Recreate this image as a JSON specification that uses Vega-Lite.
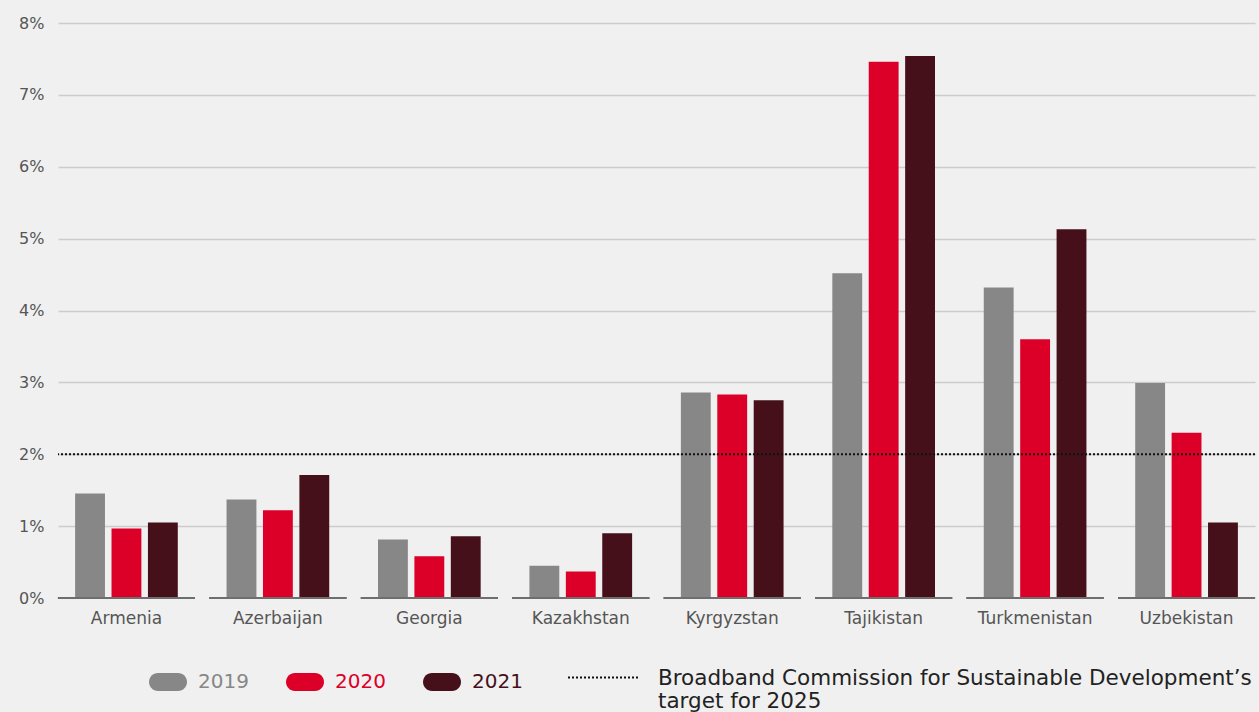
{
  "$schema": "https://vega.github.io/schema/vega-lite/v6.json",
  "width": 1197,
  "height": 575,
  "autosize": {"type": "none"},
  "padding": {"left": 58, "top": 23, "right": 4, "bottom": 114},
  "background": "#f0f0f0",
  "config": {
    "view": {"stroke": null},
    "font": "DejaVu Sans",
    "axis": {"labelFont": "DejaVu Sans", "labelColor": "#555555"},
    "legend": {"labelFont": "DejaVu Sans"}
  },
  "datasets": {
    "bars": [
      {"country": "Armenia", "year": "2019", "value": 1.455},
      {"country": "Armenia", "year": "2020", "value": 0.968},
      {"country": "Armenia", "year": "2021", "value": 1.05},
      {"country": "Azerbaijan", "year": "2019", "value": 1.37},
      {"country": "Azerbaijan", "year": "2020", "value": 1.22},
      {"country": "Azerbaijan", "year": "2021", "value": 1.71},
      {"country": "Georgia", "year": "2019", "value": 0.815},
      {"country": "Georgia", "year": "2020", "value": 0.58},
      {"country": "Georgia", "year": "2021", "value": 0.86},
      {"country": "Kazakhstan", "year": "2019", "value": 0.45},
      {"country": "Kazakhstan", "year": "2020", "value": 0.37},
      {"country": "Kazakhstan", "year": "2021", "value": 0.9},
      {"country": "Kyrgyzstan", "year": "2019", "value": 2.86},
      {"country": "Kyrgyzstan", "year": "2020", "value": 2.83},
      {"country": "Kyrgyzstan", "year": "2021", "value": 2.75},
      {"country": "Tajikistan", "year": "2019", "value": 4.52},
      {"country": "Tajikistan", "year": "2020", "value": 7.46},
      {"country": "Tajikistan", "year": "2021", "value": 7.54},
      {"country": "Turkmenistan", "year": "2019", "value": 4.32},
      {"country": "Turkmenistan", "year": "2020", "value": 3.6},
      {"country": "Turkmenistan", "year": "2021", "value": 5.13},
      {"country": "Uzbekistan", "year": "2019", "value": 2.99},
      {"country": "Uzbekistan", "year": "2020", "value": 2.3},
      {"country": "Uzbekistan", "year": "2021", "value": 1.05}
    ],
    "target": [
      {"target": 2, "label": "Broadband Commission for Sustainable Development’s target for 2025"}
    ]
  },
  "layer": [
    {
      "data": {"name": "bars"},
      "mark": {"type": "bar"},
      "encoding": {
        "x": {
          "field": "country", "type": "nominal", "sort": null,
          "scale": {"paddingInner": 0.096, "paddingOuter": 0},
          "axis": {"title": null, "domain": false, "ticks": false, "labelAngle": 0, "labelFontSize": 17, "labelPadding": 12, "labelColor": "#555555"}
        },
        "xOffset": {
          "field": "year", "type": "nominal",
          "scale": {"paddingInner": 0.18, "paddingOuter": 0.47}
        },
        "y": {
          "field": "value", "type": "quantitative",
          "scale": {"domain": [0, 8], "nice": false},
          "axis": {
            "title": null, "domain": false, "ticks": false,
            "values": [0, 1, 2, 3, 4, 5, 6, 7, 8],
            "labelExpr": "datum.value + '%'",
            "labelFontSize": 16, "labelPadding": 14, "labelColor": "#555555",
            "gridColor": "#cccccc", "gridWidth": 1.5,
            "gridOpacity": {"condition": {"test": "datum.value === 0", "value": 0}, "value": 1}
          }
        },
        "color": {
          "field": "year", "type": "nominal",
          "scale": {"domain": ["2019", "2020", "2021"], "range": ["#878787", "#dc0028", "#46101b"]},
          "legend": {
            "title": null,
            "orient": "none",
            "direction": "horizontal",
            "legendX": 91,
            "legendY": 640,
            "symbolType": "M -0.53 -0.47 L 0.53 -0.47 A 0.47 0.47 0 0 1 0.53 0.47 L -0.53 0.47 A 0.47 0.47 0 0 1 -0.53 -0.47 Z",
            "symbolSize": 1444,
            "symbolStrokeWidth": 0,
            "symbolOpacity": 1,
            "labelFontSize": 20,
            "labelOffset": 11,
            "columnPadding": 37,
            "encode": {"labels": {"update": {"fill": {"scale": "color", "field": "value"}}}}
          }
        }
      }
    },
    {
      "data": {"name": "bars"},
      "mark": {"type": "tick", "size": 137, "thickness": 2, "color": "#6e6e6e", "opacity": 1},
      "encoding": {
        "x": {"field": "country", "type": "nominal", "sort": null},
        "y": {"datum": 0}
      }
    },
    {
      "data": {"name": "target"},
      "mark": {"type": "rule", "color": "#111111", "strokeWidth": 2},
      "encoding": {
        "y": {"field": "target", "type": "quantitative"},
        "strokeDash": {
          "field": "label", "type": "nominal",
          "scale": {"range": [[2, 2]]},
          "legend": {
            "title": null,
            "orient": "none",
            "legendX": 509,
            "legendY": 618,
            "symbolType": "stroke",
            "symbolSize": 5041,
            "symbolStrokeWidth": 2,
            "symbolStrokeColor": "#111111",
            "labelFontSize": 21.5,
            "labelColor": "#222222",
            "labelOffset": 18,
            "labelLimit": 0,
            "labelExpr": "['Broadband Commission for Sustainable Development’s', 'target for 2025']",
            "encode": {"labels": {"update": {"dy": {"value": 1}}}}
          }
        }
      }
    }
  ]
}
